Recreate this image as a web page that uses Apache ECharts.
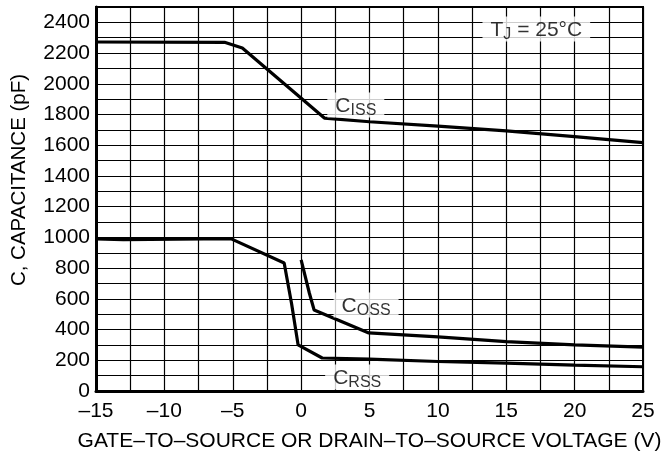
<!DOCTYPE html>
<html>
<head>
<meta charset="utf-8">
<script src="https://cdn.jsdelivr.net/npm/echarts@6/dist/echarts.min.js"></script>
<style>html,body{margin:0;padding:0;background:#fff}#c{width:672px;height:457px}</style>
</head>
<body>
<div id="c"></div>
<script>
// Data
const cissV = [-15, -5.6, -4.3, 1.7, 5, 10, 15, 20, 25];
const cissC = [2272, 2270, 2233, 1777, 1753, 1725, 1693, 1656, 1617];

const crssV = [-15, -13, -5.15, -1.24, -0.7, -0.22, 1.54, 5, 10, 15, 20, 25];
const crssC = [990, 985, 992, 833, 570, 300, 215, 207, 192, 181, 169, 158];

const cossV = [0, 0.6, 0.95, 4.95, 10, 15, 20, 25];
const cossC = [853, 638, 527, 378, 352, 322, 300, 285];

const xTicks = [-15, -10, -5, 0, 5, 10, 15, 20, 25];
const yTicks = [0, 200, 400, 600, 800, 1000, 1200, 1400, 1600, 1800, 2000, 2200, 2400];

// Annotation labels: [voltage, capacitance, main, subscript, rest]
const labelPos = [
  [4.0, 1862, 'C', 'ISS', ''],
  [4.75, 560, 'C', 'OSS', ''],
  [4.1, 91, 'C', 'RSS', ''],
  [17.2, 2357, 'T', 'J', ' = 25°C']
];

const FONT = '"Liberation Sans", Arial, Helvetica, sans-serif';
const pair = (xs, ys) => xs.map((x, i) => [x, ys[i]]);

const lineSeries = (name, d) => ({
  name, type: 'line', data: d, showSymbol: false, symbol: 'none', smooth: false,
  lineStyle: { color: '#000', width: 3.2 }, z: 3, animation: false
});

const chart = echarts.init(document.getElementById('c'), null, { renderer: 'canvas' });
chart.setOption({
  animation: false,
  backgroundColor: '#fff',
  grid: { left: 96, right: 29, top: 7, bottom: 66, show: true, borderColor: '#000', borderWidth: 2, backgroundColor: 'transparent' },
  xAxis: {
    type: 'value', min: -15, max: 25, interval: 2.5,
    name: 'GATE–TO–SOURCE OR DRAIN–TO–SOURCE VOLTAGE (V)',
    nameLocation: 'middle', nameGap: 40,
    nameTextStyle: { fontFamily: FONT, fontSize: 21, color: '#000' },
    axisLine: { show: true, onZero: false, lineStyle: { color: '#000', width: 3 } },
    axisTick: { show: false },
    splitLine: { show: true, lineStyle: { color: '#000', width: 1.2 } },
    axisLabel: {
      fontFamily: FONT, fontSize: 21, color: '#000', margin: 10,
      formatter: v => xTicks.includes(v) ? String(v).replace('-', '–') : ''
    }
  },
  yAxis: {
    type: 'value', min: 0, max: 2500, interval: 100,
    name: 'C, CAPACITANCE (pF)',
    nameLocation: 'middle', nameGap: 66,
    nameTextStyle: { fontFamily: FONT, fontSize: 20.5, color: '#000', padding: [0, 0, 0, 38] },
    axisLine: { show: true, onZero: false, lineStyle: { color: '#000', width: 3 } },
    axisTick: { show: false },
    splitLine: { show: true, lineStyle: { color: '#000', width: 1.2 } },
    axisLabel: {
      fontFamily: FONT, fontSize: 21, color: '#000', margin: 6,
      padding: [0, 0, 8, 0],
      formatter: v => yTicks.includes(v) ? String(v) : ''
    }
  },
  series: [
    lineSeries('Ciss', pair(cissV, cissC)),
    lineSeries('Crss', pair(crssV, crssC)),
    lineSeries('Coss', pair(cossV, cossC)),
    {
      type: 'scatter', symbolSize: 0, z: 10, silent: true, animation: false,
      data: labelPos.map(r => ({ value: [r[0], r[1]], m: r[2], s: r[3], r: r[4] })),
      label: {
        show: true, position: 'inside',
        backgroundColor: '#fff', padding: [2, 8, 0, 8],
        formatter: p => '{m|' + p.data.m + '}{s|' + p.data.s + '}' + (p.data.r ? '{m|' + p.data.r + '}' : ''),
        rich: {
          m: { fontFamily: FONT, fontSize: 21, color: '#000', lineHeight: 23 },
          s: { fontFamily: FONT, fontSize: 16, color: '#000', lineHeight: 17, padding: [10, 0, 0, 0] }
        }
      }
    }
  ]
});
</script>
</body>
</html>
